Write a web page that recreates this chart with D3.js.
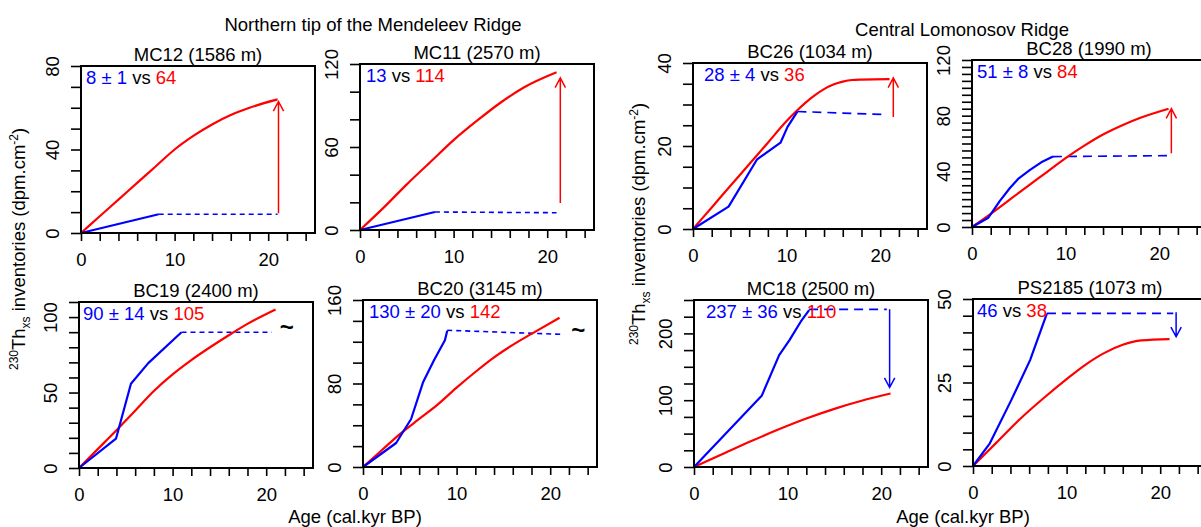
<!DOCTYPE html>
<html>
<head>
<meta charset="utf-8">
<script src="https://cdn.jsdelivr.net/npm/d3@7"></script>
<style>
	body { margin: 0; background: #fff; }
	svg { display: block; font-family: "Liberation Sans", Arial, sans-serif; }
</style>
</head>
<body>
<svg width="1201" height="527"></svg>
<script>
// ---- data ----
const coreNames = ["MC12", "MC11", "BC26", "BC28", "BC19", "BC20", "MC18", "PS2185"];
const coreDepths = [1586, 2570, 1034, 1990, 2400, 3145, 2500, 1073];
const measuredText = ["8 ± 1", "13", "28 ± 4", "51 ± 8", "90 ± 14", "130 ± 20", "237 ± 36", "46"];
const expectedText = ["64", "114", "36", "84", "105", "142", "110", "38"];

const yMaxes = [80, 120, 40, 120, 110, 160, 250, 50];
const yTickSteps = [10, 20, 5, 5, 10, 20, 25, 5];
const yTickLabels = [
	[0, 40, 80],
	[0, 60, 120],
	[0, 20, 40],
	[0, 40, 80, 120],
	[0, 50, 100],
	[0, 80, 160],
	[0, 100, 200],
	[0, 25, 50],
];
const xTicks = d3.range(0, 25, 2);
const xTickLabels = [0, 10, 20];

// expected (red) cumulative inventories
const redCurves = [
	[[0, 0], [2, 8], [4, 16], [6, 24], [8, 32], [10, 40], [12, 46.5], [14, 52], [16, 56.5], [18, 60], [21, 64]],
	[[0, 0], [2.5, 16], [5, 33], [7.5, 49], [10, 65], [12.5, 79], [15, 92], [17.5, 103], [21, 114]],
	[[0, 0], [2, 5.2], [4, 10.4], [6, 15.6], [8, 20.8], [10, 26], [11, 28.3], [12, 30.4], [13, 32.2], [14, 33.7], [15, 34.8], [16, 35.5], [17, 35.9], [18, 36], [21, 36.1]],
	[[0, 0], [2, 9.5], [4, 19.5], [6, 29.5], [8, 39.5], [10, 49.5], [12, 58.5], [14, 66.5], [16, 73], [18, 78.5], [21, 85]],
	[[0, 0], [2, 12.5], [4, 25], [6, 38], [8, 51], [10, 62], [12, 71.5], [14, 80], [16, 88], [18, 95.5], [21, 105]],
	[[0, 0], [2, 16], [4, 32], [6, 46], [8, 60], [10, 76], [12, 91], [14, 105], [16, 117], [18, 127.5], [21, 143]],
	[[0, 0], [3, 19], [6, 38], [9, 56], [12, 72.5], [15, 87], [18, 99.5], [21, 110]],
	[[0, 0], [2.5, 7], [5, 14], [7.5, 20.2], [10, 26], [12, 30.3], [14, 33.8], [16, 36.3], [18, 37.6], [21, 38]],
];

// measured (blue) cumulative inventories
const blueCurves = [
	[[0, 0], [8.3, 9]],
	[[0, 0], [8, 13]],
	[[0, 0], [3.8, 5.4], [6.85, 16.8], [9.35, 20.8], [10.1, 24.6], [11.15, 28.3]],
	[[0, 0], [1.75, 6.7], [3, 19], [4.05, 28], [5, 35], [6.2, 41], [7.4, 46.5], [8.65, 50.6]],
	[[0, 0], [3.95, 19.4], [5.55, 55.8], [7.4, 69.5], [10.95, 90]],
	[[0, 0], [3.54, 23], [5.14, 46], [6.43, 81.5], [7.57, 102], [8.75, 121.5], [9, 130.5]],
	[[0, 0], [7.23, 106.5], [9.1, 167.5], [10.2, 190], [11.4, 217.5], [12.3, 235]],
	[[0, 0], [1.8, 6.8], [4.1, 19.8], [6.1, 31.7], [7.9, 45.7]],
];

// blue dashed extensions to the LGM
const dashLines = [
	[[8.3, 9], [21, 9]],
	[[8, 13], [21, 12.5]],
	[[11.15, 28.3], [20.3, 27.6]],
	[[8.65, 50.6], [21.1, 51.3]],
	[[10.95, 90], [20.6, 90]],
	[[9, 131], [21.5, 127]],
	[[12.3, 236], [20.6, 236]],
	[[7.9, 45.7], [21.4, 45.7]],
];

// arrows: [from, to] or null
const arrowLines = [
	[[21.1, 9.5], [21.1, 63]],
	[[21.4, 19.5], [21.4, 110]],
	[[21.4, 27], [21.4, 36.4]],
	[[21.3, 53], [21.3, 85]],
	null,
	null,
	[[20.9, 236], [20.9, 119]],
	[[21.7, 46], [21.7, 38.7]],
];
const arrowColors = ["red", "red", "red", "red", null, null, "blue", "blue"];

// "~" marks
const tildeMarks = [null, null, null, null, [22.2, 94], [23, 132], null, null];

// ---- layout ----
const panelLeft = [81, 360, 693, 972, 79, 363, 694, 973];
const panelTop = [66, 64, 63, 60, 302, 300, 300, 299];
const panelBottom = [233, 230, 229, 227, 468, 467, 467, 466];
const panelWidth = 234;
const labelOffset = [5, 6, 11, 5, 4, 6, 12, 4];
const dashStyle = ["5,4", "5,4", "9,6", "9,6", "5,4", "5,4", "9,6", "9,6"];

const BLUE = "#0000ff";
const RED = "#ff0000";
const FS = 18.5;

const svg = d3.select("svg");
svg.append("rect").attr("width", 1201).attr("height", 527).attr("fill", "#fff");

const drawArrow = (g, x, y, seg, color) => {
	const [p0, p1] = seg;
	const x0 = x(p0[0]), y0 = y(p0[1]);
	const x1 = x(p1[0]), y1 = y(p1[1]);
	const ang = Math.atan2(y1 - y0, x1 - x0);
	const len = 11;
	const spread = (28 * Math.PI) / 180;
	const a1 = ang + Math.PI - spread;
	const a2 = ang + Math.PI + spread;
	g.append("path")
		.attr(
			"d",
			`M${x0},${y0}L${x1},${y1}` +
				`M${x1 + len * Math.cos(a1)},${y1 + len * Math.sin(a1)}L${x1},${y1}` +
				`L${x1 + len * Math.cos(a2)},${y1 + len * Math.sin(a2)}`,
		)
		.attr("fill", "none")
		.attr("stroke", color)
		.attr("stroke-width", 1.5);
};

const drawPanel = (i) => {
	const L = panelLeft[i];
	const T = panelTop[i];
	const B = panelBottom[i];
	const x = d3.scaleLinear().domain([0, 25]).range([L, L + panelWidth]);
	const y = d3.scaleLinear().domain([0, yMaxes[i]]).range([B, T]);
	const g = svg.append("g");

	const line = d3.line().x((d) => x(d[0])).y((d) => y(d[1]));

	// x axis
	const xAxis = g
		.append("g")
		.attr("transform", `translate(0,${B})`)
		.call(
			d3
				.axisBottom(x)
				.tickValues(xTicks)
				.tickSize(8)
				.tickSizeOuter(0)
				.tickPadding(12)
				.tickFormat((d) => (xTickLabels.includes(d) ? d : "")),
		);
	xAxis.select(".domain").remove();
	xAxis.selectAll("line").attr("stroke", "#000").attr("stroke-width", 1.6);
	xAxis.selectAll("text").attr("font-size", FS).attr("fill", "#000").attr("font-family", "Liberation Sans, Arial, sans-serif");

	// y axis
	const yAxis = g
		.append("g")
		.attr("transform", `translate(${L},0)`)
		.call(
			d3
				.axisLeft(y)
				.tickValues(d3.range(0, yMaxes[i] + 0.001, yTickSteps[i]))
				.tickSize(10)
				.tickSizeOuter(0)
				.tickFormat((d) => (yTickLabels[i].includes(d) ? d : "")),
		);
	yAxis.select(".domain").remove();
	yAxis.selectAll("line").attr("stroke", "#000").attr("stroke-width", 1.6);
	yAxis
		.selectAll("text")
		.attr("font-size", FS)
		.attr("fill", "#000")
		.attr("font-family", "Liberation Sans, Arial, sans-serif")
		.attr("transform", "rotate(-90)")
		.attr("x", 0)
		.attr("y", -22)
		.attr("dy", null)
		.attr("text-anchor", "middle");

	// curves
	g.append("path")
		.attr("d", line(dashLines[i]))
		.attr("fill", "none")
		.attr("stroke", BLUE)
		.attr("stroke-width", 1.6)
		.attr("stroke-dasharray", dashStyle[i]);

	g.append("path")
		.attr("d", line.curve(d3.curveMonotoneX)(redCurves[i]))
		.attr("fill", "none")
		.attr("stroke", RED)
		.attr("stroke-width", 2.2);
	line.curve(d3.curveLinear);

	g.append("path")
		.attr("d", line(blueCurves[i]))
		.attr("fill", "none")
		.attr("stroke", BLUE)
		.attr("stroke-width", 2.2)
		.attr("stroke-linejoin", "round");

	if (arrowLines[i]) {
		drawArrow(g, x, y, arrowLines[i], arrowColors[i] === "red" ? RED : BLUE);
	}

	if (tildeMarks[i]) {
		g.append("text")
			.attr("x", x(tildeMarks[i][0]))
			.attr("y", y(tildeMarks[i][1]))
			.attr("dy", "0.35em")
			.attr("text-anchor", "middle")
			.attr("font-size", 24)
			.attr("font-weight", "bold")
			.text("~");
	}

	// box
	g.append("rect")
		.attr("x", L)
		.attr("y", T)
		.attr("width", panelWidth)
		.attr("height", B - T)
		.attr("fill", "none")
		.attr("stroke", "#000")
		.attr("stroke-width", 2);

	// title
	g.append("text")
		.attr("x", L + panelWidth / 2)
		.attr("y", T - 5)
		.attr("text-anchor", "middle")
		.attr("font-size", FS)
		.text(`${coreNames[i]} (${coreDepths[i]} m)`);

	// inventory comparison label
	const lab = g
		.append("text")
		.attr("x", L + labelOffset[i])
		.attr("y", T + 18)
		.attr("font-size", FS);
	lab.append("tspan").attr("fill", BLUE).text(measuredText[i]);
	lab.append("tspan").attr("fill", "#000").text(" vs ");
	lab.append("tspan").attr("fill", RED).text(expectedText[i]);
};

d3.range(coreNames.length).forEach(drawPanel);

// group titles
const groupTitles = [
	{ text: "Northern tip of the Mendeleev Ridge", x: 373, y: 31 },
	{ text: "Central Lomonosov Ridge", x: 962, y: 36 },
];
groupTitles.forEach((t) => {
	svg.append("text")
		.attr("x", t.x)
		.attr("y", t.y)
		.attr("text-anchor", "middle")
		.attr("font-size", FS)
		.text(t.text);
});

// x axis titles
[355, 963].forEach((cx) => {
	svg.append("text")
		.attr("x", cx)
		.attr("y", 523)
		.attr("text-anchor", "middle")
		.attr("font-size", FS)
		.text("Age (cal.kyr BP)");
});

// y axis titles
const yTitle = (bx, by) => {
	const t = svg
		.append("text")
		.attr("transform", `translate(${bx},${by}) rotate(-90)`)
		.attr("text-anchor", "start")
		.attr("font-size", FS);
	t.append("tspan").attr("font-size", 12).attr("dy", -7).text("230");
	t.append("tspan").attr("dy", 7).text("Th");
	t.append("tspan").attr("font-size", 12).attr("dy", 5).text("xs");
	t.append("tspan").attr("dy", -5).text(" inventories (dpm.cm");
	t.append("tspan").attr("font-size", 12).attr("dy", -7).text("-2");
	t.append("tspan").attr("dy", 7).text(")");
};
yTitle(25, 370);
yTitle(645, 345);
</script>
</body>
</html>
